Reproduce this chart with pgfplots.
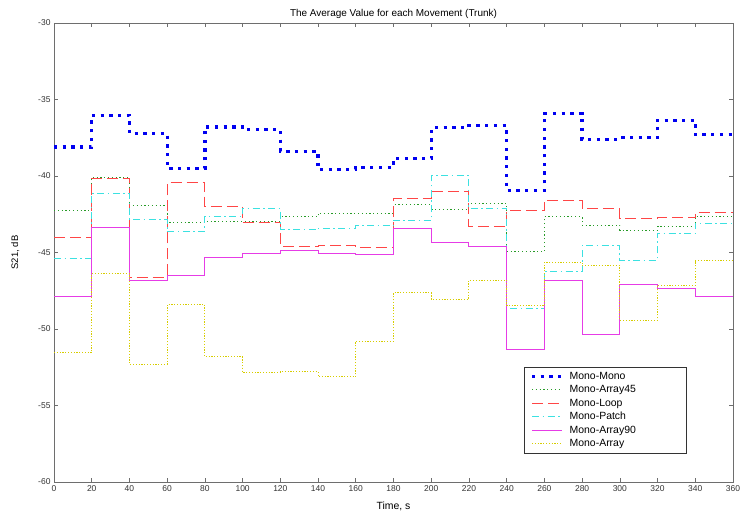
\documentclass[border=0pt]{standalone}
\usepackage{pgfplots}
\pgfplotsset{compat=1.18}
\usepackage{fontspec}
\setmainfont{Liberation Sans}
\definecolor{mblue}{RGB}{0,0,240}
\definecolor{mgreen}{RGB}{40,155,40}
\definecolor{mred}{RGB}{255,70,70}
\definecolor{mcyan}{RGB}{60,225,225}
\definecolor{mmag}{RGB}{230,60,230}
\definecolor{myel}{RGB}{215,205,0}
\definecolor{axgray}{RGB}{110,110,110}
\begin{document}
\begin{tikzpicture}
\path[use as bounding box] (-54bp,-38bp) rectangle (688bp,482bp);
\begin{axis}[
  at={(0,0)}, anchor=south west,
  scale only axis, width=679bp, height=459bp,
  xmin=0, xmax=360, ymin=-60, ymax=-30,
  xtick={0,20,...,360}, ytick={-60,-55,...,-30},
  tick align=inside, major tick length=4bp,
  axis line style={axgray, line width=0.8pt},
  every tick/.style={axgray, line width=0.6pt},
  /pgf/number format/assume math mode=true,
  tick label style={font=\fontsize{8.5}{9}\selectfont, text=black!80},
  title={The Average Value for each Movement (Trunk)},
  title style={font=\fontsize{10}{11}\selectfont, yshift=-5bp},
  xlabel={Time, s}, ylabel={S21, dB},
  xlabel style={font=\fontsize{10.5}{11}\selectfont, yshift=-4bp},
  ylabel style={font=\fontsize{9.5}{10}\selectfont, yshift=12bp},
  legend style={at={(0.932,0.063)}, anchor=south east, draw=black!80,
    font=\fontsize{10.5}{12}\selectfont, row sep=0.6bp, inner xsep=6bp, inner ysep=3bp,
    nodes={text width=109bp},
    /tikz/every odd column/.append style={column sep=4bp}},
  legend cell align=left,
  legend image code/.code={\draw[#1] (0bp,0bp) -- (30bp,0bp);},
  const plot,
]
\addplot[mblue, line width=3.3bp, line cap=butt, dash pattern=on 3.3bp off 5.4bp] coordinates {
(0,-38.1)(20,-36.03)(40,-37.22)(60,-39.5)(80,-36.79)(100,-36.96)(120,-38.38)(140,-39.58)(160,-39.44)(180,-38.86)(200,-36.85)(220,-36.72)(240,-40.93)(260,-35.92)(280,-37.6)(300,-37.5)(320,-36.35)(340,-37.29)(360,-37.29)};
\addlegendentry{Mono-Mono}
\addplot[mgreen, line width=0.9bp, dash pattern=on 1.2bp off 2.6bp] coordinates {
(0,-42.28)(20,-40.1)(40,-41.95)(60,-43.04)(80,-43.0)(100,-43.0)(120,-42.67)(140,-42.45)(160,-42.45)(180,-41.86)(200,-42.19)(220,-41.8)(240,-44.92)(260,-42.67)(280,-43.22)(300,-43.54)(320,-43.28)(340,-42.67)(360,-42.67)};
\addlegendentry{Mono-Array45}
\addplot[mred, line width=0.9bp, dash pattern=on 11bp off 5bp] coordinates {
(0,-44.0)(20,-40.16)(40,-46.6)(60,-40.45)(80,-42.0)(100,-43.06)(120,-44.59)(140,-44.52)(160,-44.67)(180,-41.47)(200,-41.04)(220,-43.3)(240,-42.28)(260,-41.58)(280,-42.12)(300,-42.78)(320,-42.71)(340,-42.35)(360,-42.35)};
\addlegendentry{Mono-Loop}
\addplot[mcyan, line width=0.9bp, dash pattern=on 7bp off 3.5bp on 1.5bp off 3.5bp] coordinates {
(0,-45.4)(20,-41.14)(40,-42.85)(60,-43.65)(80,-42.63)(100,-42.12)(120,-43.5)(140,-43.4)(160,-43.25)(180,-42.89)(200,-39.99)(220,-42.12)(240,-48.66)(260,-46.22)(280,-44.52)(300,-45.5)(320,-43.76)(340,-43.1)(360,-43.1)};
\addlegendentry{Mono-Patch}
\addplot[mmag, line width=0.9bp] coordinates {
(0,-47.86)(20,-43.37)(40,-46.85)(60,-46.48)(80,-45.35)(100,-45.03)(120,-44.89)(140,-45.07)(160,-45.13)(180,-43.43)(200,-44.37)(220,-44.59)(240,-51.32)(260,-46.81)(280,-50.36)(300,-47.1)(320,-47.35)(340,-47.86)(360,-47.86)};
\addlegendentry{Mono-Array90}
\addplot[myel, line width=0.9bp, dash pattern=on 1.2bp off 1.6bp] coordinates {
(0,-51.56)(20,-46.37)(40,-52.3)(60,-48.4)(80,-51.82)(100,-52.84)(120,-52.8)(140,-53.13)(160,-50.8)(180,-47.64)(200,-48.05)(220,-46.81)(240,-48.49)(260,-45.64)(280,-45.87)(300,-49.42)(320,-47.15)(340,-45.54)(360,-45.54)};
\addlegendentry{Mono-Array}
\end{axis}
\end{tikzpicture}
\end{document}
